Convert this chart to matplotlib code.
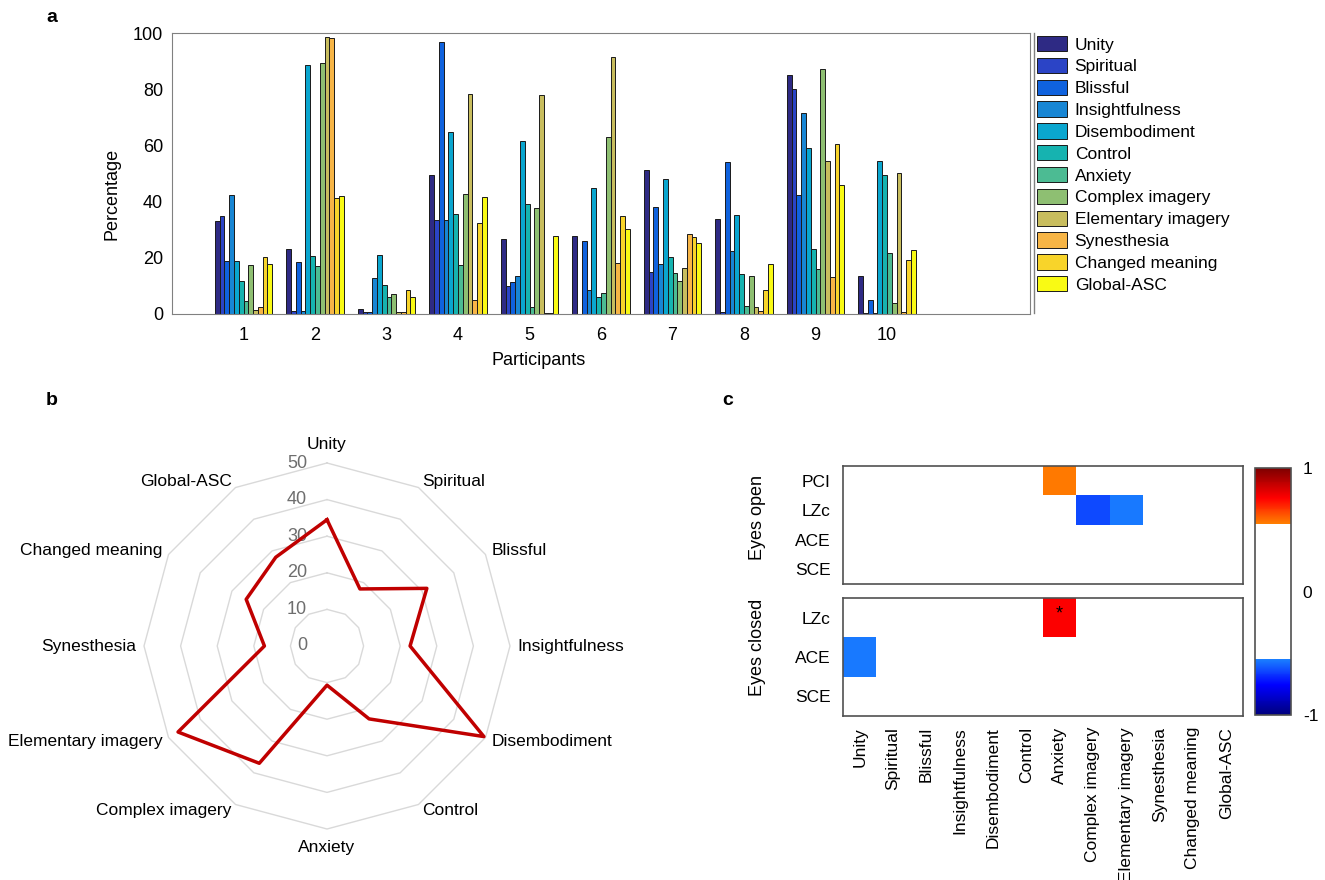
import numpy as np
import matplotlib
matplotlib.use("Agg")
import matplotlib.pyplot as plt
from matplotlib.colors import LinearSegmentedColormap, Normalize
from matplotlib.cm import ScalarMappable
from matplotlib.lines import Line2D

plt.rcParams["font.family"] = ["Liberation Sans", "DejaVu Sans"]
plt.rcParams["axes.unicode_minus"] = False

# ---- data ----
dims = ["Unity", "Spiritual", "Blissful", "Insightfulness", "Disembodiment",
        "Control", "Anxiety", "Complex imagery", "Elementary imagery",
        "Synesthesia", "Changed meaning", "Global-ASC"]
participants = list(range(1, 11))

unity = [33.1, 23.0, 1.9, 49.5, 26.7, 27.6, 51.1, 33.8, 85.2, 13.4]
spiritual = [34.7, 1.0, 0.8, 33.3, 10.0, 0.0, 15.1, 0.8, 80.2, 0.2]
blissful = [18.9, 18.4, 0.8, 96.8, 11.4, 26.0, 38.0, 54.0, 42.4, 5.0]
insightfulness = [42.5, 1.0, 12.9, 33.6, 13.7, 8.6, 17.7, 22.4, 71.5, 0.2]
disembodiment = [18.9, 88.5, 20.9, 64.8, 61.6, 44.9, 48.1, 35.2, 59.1, 54.3]
control = [11.6, 20.5, 10.2, 35.7, 39.1, 6.2, 20.4, 14.4, 23.3, 49.5]
anxiety = [4.5, 17.1, 5.9, 17.5, 2.5, 7.5, 14.5, 3.0, 16.0, 21.6]
complex_img = [17.3, 89.3, 7.0, 42.8, 37.6, 63.1, 11.9, 13.7, 87.2, 3.8]
elementary_img = [1.3, 98.7, 0.8, 78.4, 78.0, 91.3, 16.3, 2.5, 54.4, 50.0]
synesthesia = [2.5, 98.2, 0.8, 4.9, 0.2, 18.1, 28.6, 1.1, 13.3, 0.6]
changed_meaning = [20.2, 41.2, 8.6, 32.3, 0.2, 34.8, 27.4, 8.7, 60.6, 19.2]
global_asc = [17.8, 42.0, 5.9, 41.7, 27.8, 30.2, 25.4, 17.7, 45.8, 22.6]
series = [unity, spiritual, blissful, insightfulness, disembodiment, control,
          anxiety, complex_img, elementary_img, synesthesia, changed_meaning,
          global_asc]

bar_colors = ["#2e2a84", "#2b44c6", "#0f62de", "#1886d4", "#0aa6cf", "#16b3b0",
              "#4cbb93", "#8ebf72", "#c8bd5e", "#f7b546", "#f8d42a", "#f9fa14"]

# radar: mean score per dimension
radar_vals = [34.5, 18.0, 31.5, 22.7, 49.5, 23.0, 10.7, 37.0, 47.0, 17.1,
              25.5, 28.0]
radar_ticks = [0, 10, 20, 30, 40, 50]

# correlations (0 = not significant)
eo_rows = ["PCI", "LZc", "ACE", "SCE"]
ec_rows = ["LZc", "ACE", "SCE"]
eo_pci = [0, 0, 0, 0, 0, 0, 0.56, 0, 0, 0, 0, 0]
eo_lzc = [0, 0, 0, 0, 0, 0, 0, -0.64, -0.56, 0, 0, 0]
eo_ace = [0] * 12
eo_sce = [0] * 12
ec_lzc = [0, 0, 0, 0, 0, 0, 0.76, 0, 0, 0, 0, 0]
ec_ace = [-0.56, 0, 0, 0, 0, 0, 0, 0, 0, 0, 0, 0]
ec_sce = [0] * 12
star_cells = [(6, 0)]  # (column, row) in eyes-closed block

W, H = 1325, 880


def rect(x0, y0, x1, y1):
    return [x0 / W, 1 - y1 / H, (x1 - x0) / W, (y1 - y0) / H]


fig = plt.figure(figsize=(W / 100, H / 100), dpi=100)

# ---- a: grouped bars ----
ax = fig.add_axes(rect(172, 33, 1030, 314))
bw = 0.8 / 12
x = np.array(participants)
for i, (name, vals) in enumerate(zip(dims, series)):
    ax.bar(x + (i - 5.5) * bw, vals, bw, color=bar_colors[i],
           edgecolor="#1a1a1a", linewidth=0.7, label=name)
ax.set_xlim(0, 12)
ax.set_ylim(0, 100)
ax.set_xticks(x)
ax.set_yticks(range(0, 101, 20))
ax.tick_params(length=0, labelsize=13)
ax.tick_params(axis="y", pad=6.5)
ax.tick_params(axis="x", pad=9)
for s in ax.spines.values():
    s.set_color("#808080")
fig.text(539 / W, 1 - 360 / H, "Participants", ha="center", va="center", fontsize=13)
fig.text(112 / W, 1 - 194 / H, "Percentage", ha="center", va="center",
         rotation=90, fontsize=13)

ax.legend(loc="upper left", bbox_to_anchor=(1037 / W, 1 - 36 / H),
          bbox_transform=fig.transFigure, frameon=False, borderpad=0,
          borderaxespad=0, handlelength=1.72, handleheight=0.98,
          labelspacing=0.3, handletextpad=0.45, fontsize=12.5)
fig.add_artist(Line2D([1034 / W, 1034 / W], [1 - 33 / H, 1 - 313 / H],
                      color="#808080", lw=1))

# ---- b: radar ----
rax = fig.add_axes(rect(0, 412, 654, 880))
k = 3.66
rax.set_xlim(-327 / k, 327 / k)
rax.set_ylim(-234 / k, 234 / k)
rax.axis("off")
th = np.arange(12) * 2 * np.pi / 12
thc = np.append(th, th[0])
for r in radar_ticks[1:]:
    rax.plot(r * np.sin(thc), r * np.cos(thc), color="#d9d9d9", lw=1, zorder=1)
for r in radar_ticks:
    rax.text(-20 / k, r, str(r), ha="right", va="center", color="#6e6e6e",
             fontsize=13, zorder=2)
rv = np.append(radar_vals, radar_vals[0])
rax.plot(rv * np.sin(thc), rv * np.cos(thc), color="#c00000", lw=2.5, zorder=3)
for t, name in zip(th, dims):
    s, c = np.sin(t), np.cos(t)
    if abs(s) < 1e-6:
        rax.text(0, 55 * c, name, ha="center", va="center", fontsize=12.5)
    else:
        rax.text(52 * s, 52 * c, name, ha="left" if s > 0 else "right",
                 va="center", fontsize=12.5)

# ---- c: correlation maps ----
cmap = LinearSegmentedColormap.from_list("sig", [
    (0.0, "#00007f"), (0.12, "#0000ff"), (0.225, "#1a80ff"),
    (0.2251, "#ffffff"), (0.7749, "#ffffff"), (0.775, "#ff8000"),
    (0.88, "#ff0000"), (1.0, "#7f0000")])

eo = np.array([eo_pci, eo_lzc, eo_ace, eo_sce])
ec = np.array([ec_lzc, ec_ace, ec_sce])

hax1 = fig.add_axes(rect(843, 466, 1243, 584))
hax1.imshow(eo, cmap=cmap, vmin=-1, vmax=1, aspect="auto", interpolation="nearest")
hax1.set_yticks(range(len(eo_rows)))
hax1.set_yticklabels(eo_rows)
hax1.set_xticks([])

hax2 = fig.add_axes(rect(843, 598, 1243, 716))
hax2.imshow(ec, cmap=cmap, vmin=-1, vmax=1, aspect="auto", interpolation="nearest")
hax2.set_yticks(range(len(ec_rows)))
hax2.set_yticklabels(ec_rows)
hax2.set_xticks(range(12))
hax2.set_xticklabels(dims, rotation=90)
for cx, cy in star_cells:
    hax2.text(cx, cy - 0.1, "*", ha="center", va="center", fontsize=13)

for a in (hax1, hax2):
    a.tick_params(length=0, labelsize=12.5)
    a.tick_params(axis="y", pad=9)
    a.tick_params(axis="x", pad=8)
    for s in a.spines.values():
        s.set_color("#505050")
        s.set_linewidth(1.2)

fig.text(757 / W, 1 - 518 / H, "Eyes open", rotation=90, ha="center",
         va="center", fontsize=13)
fig.text(757 / W, 1 - 647 / H, "Eyes closed", rotation=90, ha="center",
         va="center", fontsize=13)

cax = fig.add_axes(rect(1255, 468, 1291, 715))
cb = fig.colorbar(ScalarMappable(norm=Normalize(-1, 1), cmap=cmap), cax=cax,
                  ticks=[-1, 0, 1])
cb.ax.set_yticklabels(["-1", "0", "1"])
cb.ax.tick_params(length=0, labelsize=12.5, pad=8.5)
cb.outline.set_edgecolor("#505050")
cb.outline.set_linewidth(1.2)

# panel letters
for lx, ly, lab in [(52, 18, "a"), (52, 400, "b"), (728, 400, "c")]:
    fig.text(lx / W, 1 - ly / H, lab, ha="center", va="center",
             fontsize=14, fontweight="bold")

fig.savefig("out.png", dpi=100)
